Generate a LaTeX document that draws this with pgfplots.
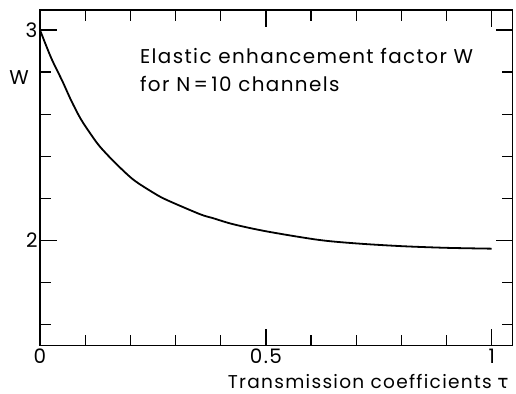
\documentclass[border=0pt]{standalone}
\usepackage{fontspec}
\setmainfont{Poppins}[LetterSpace=7]
\newfontfamily\greekfont{DejaVu Sans}
\usepackage{pgfplots}
\pgfplotsset{compat=1.18}
\begin{document}
\begin{tikzpicture}
\newcommand{\lbl}{\fontsize{20}{24}\selectfont}
\begin{axis}[
  name=ax,
  scale only axis,
  width=472.7bp, height=335.7bp,
  xmin=0, xmax=1.0465, ymin=1.5, ymax=3.095,
  axis line style={line width=1.5bp},
  tick align=inside,
  tick pos=both,
  xtick={0,0.5,1}, xticklabels={0,0.5,1},
  minor xtick={0.1,0.2,0.3,0.4,0.6,0.7,0.8,0.9},
  ytick={2,3}, yticklabels={2,3},
  minor ytick={1.6,1.8,2.2,2.4,2.6,2.8},
  major tick length=17bp, minor tick length=11bp,
  every tick/.style={line width=1.3bp, black},
  xticklabel pos=left, yticklabel pos=left,
  tick label style={font=\lbl},
  yticklabel style={xshift=1bp},
  /pgf/number format/assume math mode=true,
  clip=false,
]
\addplot[line width=1.8bp, black, smooth, tension=0.5] coordinates {
(0,3.0) (0.025,2.866) (0.05,2.755) (0.069,2.665) (0.09,2.578) (0.114,2.50)
(0.133,2.445) (0.165,2.372) (0.206,2.290) (0.25,2.228) (0.28,2.193)
(0.354,2.125) (0.383,2.106) (0.428,2.077) (0.502,2.043) (0.616,2.003)
(0.70,1.986) (0.80,1.973) (0.90,1.965) (1.0,1.961)
};
\node[anchor=base west, font=\lbl, inner sep=0pt] at (axis cs:0.221,2.842) {Elastic enhancement factor W};
\node[anchor=base west, font=\lbl, inner sep=0pt] at (axis cs:0.221,2.707) {for N\,=\,10 channels};
\node[anchor=east, font=\lbl, inner sep=0pt, xshift=-11bp] at (axis cs:0,2.775) {W};
\node[anchor=base east, font=\fontsize{18.6}{22}\selectfont, inner sep=0pt, xshift=-4bp, yshift=-43bp] at (rel axis cs:1,0) {Transmission coefficients\hspace{0.3em}{\greekfont τ}};
\end{axis}
\pgfresetboundingbox
\path[use as bounding box] ([xshift=-40bp,yshift=-48.3bp]ax.south west) rectangle ([xshift=3.3bp,yshift=10bp]ax.north east);
\end{tikzpicture}
\end{document}
